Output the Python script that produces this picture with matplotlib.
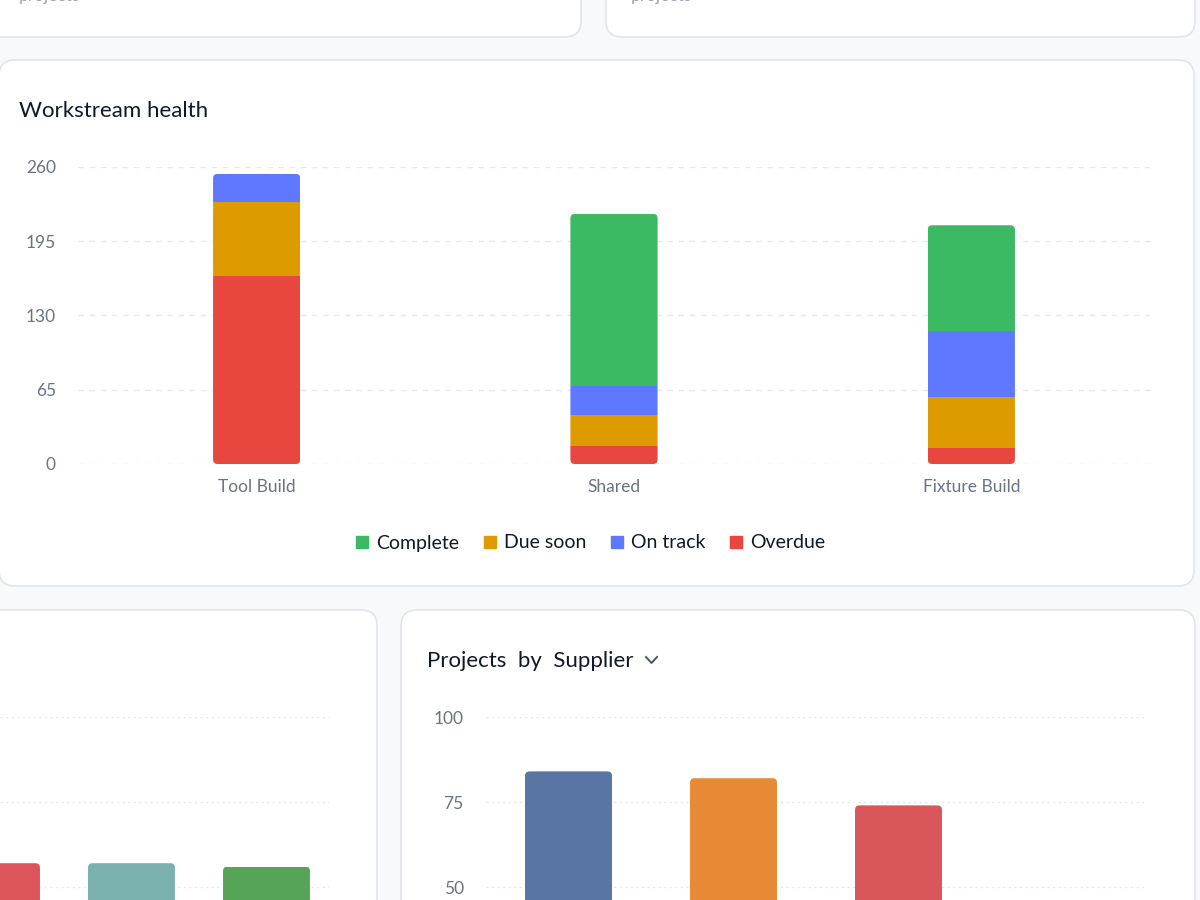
import matplotlib
matplotlib.use('Agg')
import matplotlib.pyplot as plt
from matplotlib.patches import FancyBboxPatch
from matplotlib.lines import Line2D
import numpy as np

plt.rcParams['font.family'] = ['Lato', 'DejaVu Sans']

# Workstream health (stacked, bottom first)
workstreams = ['Tool Build', 'Shared', 'Fixture Build']
overdue = [165, 16, 14]
due_soon = [64, 27, 45]
on_track = [25, 25, 57]
complete = [0, 151, 93]
health_ticks = [0, 65, 130, 195, 260]

# lower panels, cut off by the screenshot
left_values = [57, 57, 56]
supplier_values = [84, 82, 74]
lower_ticks = [50, 75, 100]

# colours
c_complete = '#3bba63'
c_due = '#dd9b00'
c_track = '#5e78ff'
c_overdue = '#e84740'
left_colors = ['#dc565c', '#7ab0ad', '#56a457']
supplier_colors = ['#5975a4', '#e68a36', '#d9565a']
grid_col = '#e6e8ec'
tick_col = '#6b7280'
border_col = '#e1e4e8'

W, H = 1200, 900
fig = plt.figure(figsize=(12, 9), dpi=100)
fig.patch.set_facecolor('#f8f9fb')

# background axes in pixel coordinates for cards and titles
bg = fig.add_axes([0, 0, 1, 1], zorder=-1)
bg.set_xlim(0, W)
bg.set_ylim(H, 0)
bg.axis('off')


def card(x0, y0, x1, y1):
    p = FancyBboxPatch((x0, y0), x1 - x0, y1 - y0,
                       boxstyle='round,pad=0,rounding_size=16',
                       fc='white', ec=border_col, lw=1.2)
    bg.add_patch(p)


card(-40, -100, 581, 37)
card(606, -100, 1195, 37)
card(-1, 60, 1194, 586)
card(-40, 610, 377, 1000)
card(401, 610, 1195, 1000)

bg.text(19, 1.5, 'projects', fontsize=12.5, color='#9ca3af', va='baseline')
bg.text(631, 1.5, 'projects', fontsize=12.5, color='#9ca3af', va='baseline')
bg.text(19, 111, 'Workstream health', fontsize=16, color='#111827', va='center')
bg.text(427, 661, 'Projects  by  Supplier', fontsize=16, color='#111827',
        va='center')
bg.add_line(Line2D([646, 651.5, 657], [657, 663, 657], color='#4b5563', lw=1.4))


def place(x0, y0, x1, y1):
    ax = fig.add_axes([x0 / W, 1 - y1 / H, (x1 - x0) / W, (y1 - y0) / H])
    ax.patch.set_alpha(0)
    for s in ax.spines.values():
        s.set_visible(False)
    return ax


def round_bars(ax, xs, width, tops, bars_list, radius_px=4.5):
    # clip each stacked column with a rounded box
    fig.canvas.draw()
    bb = ax.get_window_extent()
    x0, x1 = ax.get_xlim()
    y0, y1 = ax.get_ylim()
    ux = (x1 - x0) / bb.width
    uy = (y1 - y0) / bb.height
    for i, (x, t) in enumerate(zip(xs, tops)):
        clip = FancyBboxPatch((x - width / 2, 0), width, t,
                              boxstyle=f'round,pad=0,rounding_size={radius_px * ux}',
                              mutation_aspect=uy / ux, transform=ax.transData)
        for bars in bars_list:
            bars[i].set_clip_path(clip)


# main chart
ax = place(78, 167, 1150, 464)
x = np.arange(len(workstreams))
bw = 0.244
b1 = ax.bar(x, overdue, bw, color=c_overdue, label='Overdue')
b2 = ax.bar(x, due_soon, bw, bottom=overdue, color=c_due, label='Due soon')
base3 = np.add(overdue, due_soon)
b3 = ax.bar(x, on_track, bw, bottom=base3, color=c_track, label='On track')
base4 = base3 + np.array(on_track)
b4 = ax.bar(x, complete, bw, bottom=base4, color=c_complete, label='Complete')
ax.set_xlim(-0.5, 2.5)
ax.set_ylim(0, 260)
ax.set_yticks(health_ticks)
ax.set_xticks(x)
ax.set_xticklabels(workstreams)
ax.tick_params(axis='y', length=0, pad=16, labelsize=12.5, labelcolor=tick_col)
ax.tick_params(axis='x', length=0, pad=10.5, labelsize=12.5, labelcolor=tick_col)
ax.yaxis.grid(True, color=grid_col, linestyle=(0, (4, 4)), lw=1)
ax.set_axisbelow(True)
round_bars(ax, x, bw, base4 + np.array(complete), [b1, b2, b3, b4])

handles = [Line2D([], [], marker='s', ls='none', ms=9, color=c)
           for c in [c_complete, c_due, c_track, c_overdue]]
fig.legend(handles, ['Complete', 'Due soon', 'On track', 'Overdue'],
           loc='center', bbox_to_anchor=(588 / W, 1 - 543 / H), ncol=4,
           frameon=False, fontsize=14, handletextpad=0.15, columnspacing=0.95,
           handlelength=1.2, labelcolor='#111827')

# lower-left chart (mostly off screen)
axl = place(0, 717, 329, 900)
xl = np.arange(len(left_values))
bl = axl.bar(xl, left_values, 0.644, color=left_colors)
axl.set_xlim(0.026, 2.463)
axl.set_ylim(46.18, 100)
axl.set_yticks(lower_ticks)
axl.set_xticks([])
axl.tick_params(axis='y', length=0, labelleft=False)
axl.yaxis.grid(True, color=grid_col, linestyle=(0, (1.5, 2.5)), lw=1)
axl.set_axisbelow(True)
round_bars(axl, xl, 0.644, left_values, [bl])

# projects by supplier
axr = place(486, 717, 1146, 900)
xr = np.arange(len(supplier_values))
br = axr.bar(xr, supplier_values, 0.527, color=supplier_colors)
axr.set_xlim(-0.5, 3.5)
axr.set_ylim(46.18, 100)
axr.set_yticks(lower_ticks)
axr.set_xticks([])
axr.tick_params(axis='y', length=0, pad=16, labelsize=12.5, labelcolor=tick_col)
axr.yaxis.grid(True, color=grid_col, linestyle=(0, (1.5, 2.5)), lw=1)
axr.set_axisbelow(True)
round_bars(axr, xr, 0.527, supplier_values, [br])

fig.savefig('out.png', dpi=100, facecolor=fig.get_facecolor())
